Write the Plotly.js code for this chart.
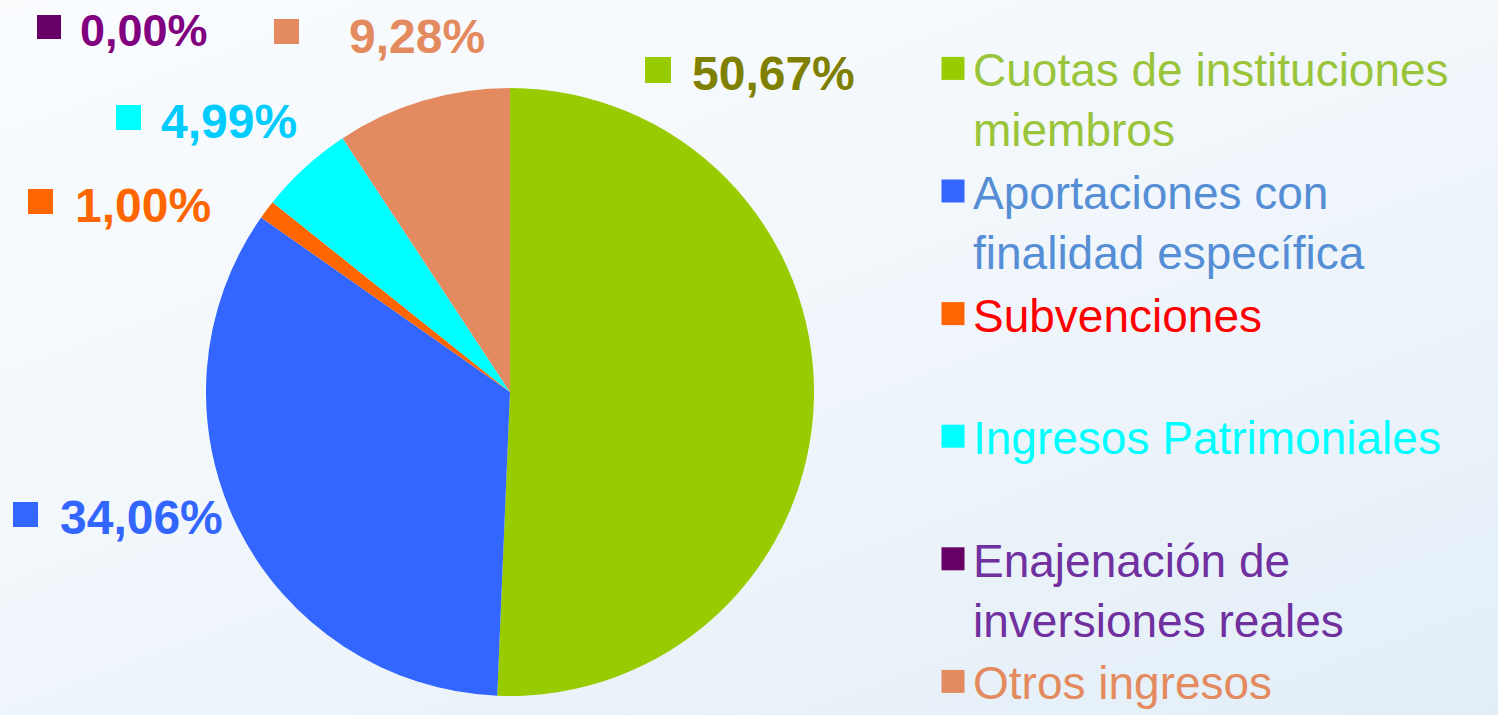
<!DOCTYPE html>
<html>
<head>
<meta charset="utf-8">
<script src="https://cdn.plot.ly/plotly-3.0.1.min.js"></script>
<style>
  html, body { margin: 0; padding: 0; width: 1498px; height: 715px; overflow: hidden; }
  body { background: linear-gradient(160deg, #FAFCFE 0%, #F3F8FC 40%, #EAF2F9 75%, #E2EEF7 100%); }
  #chart { width: 1498px; height: 760px; }
</style>
</head>
<body>
<div id="chart"></div>
<script>
// ---- data ----
const categories = [
  'Cuotas de instituciones miembros',
  'Aportaciones con finalidad específica',
  'Subvenciones',
  'Ingresos Patrimoniales',
  'Enajenación de inversiones reales',
  'Otros ingresos'
];
const legendLines = [
  ['Cuotas de instituciones', 'miembros'],
  ['Aportaciones con', 'finalidad específica'],
  ['Subvenciones', '\u00a0'],
  ['Ingresos Patrimoniales', '\u00a0'],
  ['Enajenación de', 'inversiones reales'],
  ['Otros ingresos']
];
const shares = [50.67, 34.06, 1.00, 4.99, 0.00, 9.28];

// ---- styles ----
const sliceColors = ['#99CC00', '#3366FF', '#FF6600', '#00FFFF', '#660066', '#E48A60'];
const legendTextColors = ['#9AC43A', '#558ED5', '#FF0000', '#00FFFF', '#7030A0', '#E48A5F'];
const labelTextColors = ['#808000', '#3366FF', '#FF6600', '#00CCFF', '#800080', '#E48A5F'];

// label placement in page pixels: [squareX, squareY, squareSize, textX, textCenterY, fontSize]
const labelPlacement = [
  [645, 57, 26, 690, 73, 48],
  [13, 502, 25, 58, 517, 48],
  [28, 189, 25, 73, 205, 48],
  [116, 105, 25, 159, 122, 48],
  [37, 15, 24, 78, 30, 45],
  [274, 19, 25, 347, 37, 48]
];

// the figure is taller than the window; the window crops its bottom
const W = 1498, H = 760;
const fx = p => p / W;
const fy = p => 1 - p / H;

const legendLabels = legendLines.map((lines, i) =>
  lines.map(t => `<span style="color:${legendTextColors[i]}">${t}</span>`).join('<br>')
);

const fmt = v => v.toFixed(2).replace('.', ',') + '%';

const annotations = [];
const shapes = [];
shares.forEach((v, i) => {
  const [sx, sy, ss, tx, ty, fs] = labelPlacement[i];
  shapes.push({
    type: 'rect', xref: 'paper', yref: 'paper',
    x0: fx(sx), x1: fx(sx + ss), y0: fy(sy + ss), y1: fy(sy),
    fillcolor: sliceColors[i], line: { width: 0 }
  });
  annotations.push({
    xref: 'paper', yref: 'paper', x: fx(tx), y: fy(ty),
    xanchor: 'left', yanchor: 'middle', showarrow: false,
    text: '<b>' + fmt(v) + '</b>',
    font: { family: 'Liberation Sans, Arial, sans-serif', size: fs, color: labelTextColors[i] }
  });
});

const data = [{
  type: 'pie',
  labels: legendLabels,
  values: shares,
  sort: false,
  direction: 'clockwise',
  rotation: 0,
  textinfo: 'none',
  hoverinfo: 'none',
  marker: { colors: sliceColors, line: { width: 0 } },
  domain: { x: [fx(206), fx(814)], y: [fy(696), fy(88)] }
}];

const layout = {
  width: W, height: H,
  margin: { l: 0, r: 0, t: 0, b: 0, pad: 0 },
  paper_bgcolor: 'rgba(0,0,0,0)',
  plot_bgcolor: 'rgba(0,0,0,0)',
  showlegend: true,
  legend: {
    x: fx(933), xanchor: 'left',
    y: fy(32), yanchor: 'top',
    valign: 'top',
    bgcolor: 'rgba(0,0,0,0)',
    borderwidth: 0,
    maxheight: 3000,
    font: { family: 'Liberation Sans, Arial, sans-serif', size: 46, color: '#444' }
  },
  shapes: shapes,
  annotations: annotations
};

Plotly.newPlot('chart', data, layout, { staticPlot: true, displayModeBar: false }).then(gd => {
  gd.querySelectorAll('.legendpoints path.legendpie').forEach(p => {
    p.setAttribute('d', 'M11.5,11.5H-11.5V-11.5H11.5Z');
  });
});
</script>
</body>
</html>
